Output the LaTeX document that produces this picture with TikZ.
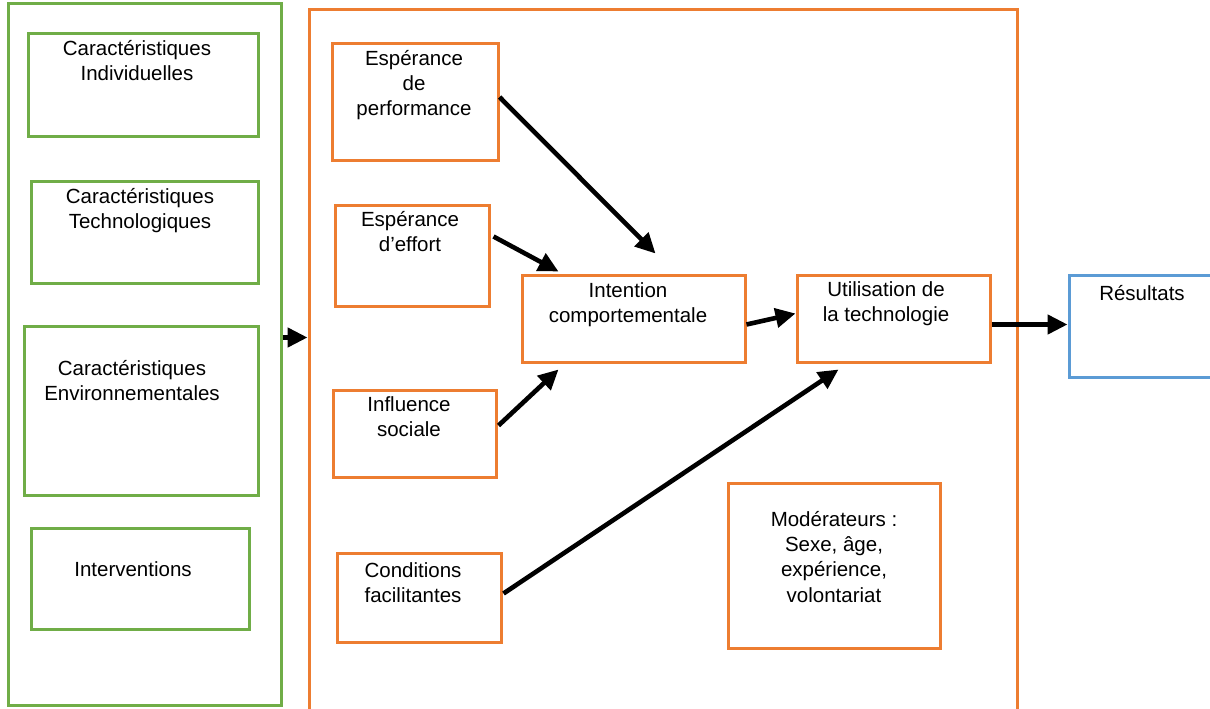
\documentclass[tikz,border=0pt]{standalone}
\usepackage{fontspec}
\setmainfont{Liberation Sans}
\usetikzlibrary{arrows.meta,positioning}
\definecolor{grn}{HTML}{70AD47}
\definecolor{org}{HTML}{ED7D31}
\definecolor{blu}{HTML}{5B9BD5}
\tikzset{
  gbox/.style={draw=grn,line width=3pt,inner sep=0pt},
  obox/.style={draw=org,line width=3pt,inner sep=0pt},
  bbox/.style={draw=blu,line width=3pt,inner sep=0pt},
  lbl/.style={font=\fontsize{20.5}{25.3}\selectfont,align=center,inner sep=0pt,anchor=north,execute at begin node=\strut},
  arr/.style={line width=4.6pt,-{Triangle[length=20pt,width=19pt]}}
}
\begin{document}
\begin{tikzpicture}[x=1pt,y=-1pt]
  \useasboundingbox (0,0) rectangle (1210,709);
  % facteurs externes
  \node[gbox,minimum width=273pt,minimum height=701pt] (gouter) at (144.5,354.5) {};
  \node[gbox,minimum width=230pt,minimum height=102pt] (gind) at (143,85) {};
  \node[gbox,minimum width=227pt,minimum height=102pt] (gtech) at (144.5,232) {};
  \node[gbox,minimum width=234pt,minimum height=169pt] (genv) at (141,410.5) {};
  \node[gbox,minimum width=218pt,minimum height=101pt] (gintv) at (140,578.5) {};
  \node[lbl] (gind-t) at (137,40) {Caractéristiques\\Individuelles};
  \node[lbl] (gtech-t) at (140,188) {Caractéristiques\\Technologiques};
  \node[lbl] (genv-t) at (132,360) {Caractéristiques\\Environnementales};
  \node[lbl] (gintv-t) at (133,559) {Interventions};
  % modele
  \node[obox,minimum width=708pt,minimum height=720pt] (oouter) at (663,370) {};
  \node[obox,minimum width=166pt,minimum height=116pt] (perf) at (415,102) {};
  \node[obox,minimum width=154pt,minimum height=101pt] (eff) at (412,255.5) {};
  \node[obox,minimum width=163pt,minimum height=87pt] (infl) at (414.5,433.5) {};
  \node[obox,minimum width=164pt,minimum height=89pt] (cond) at (419,597.5) {};
  \node[obox,minimum width=223pt,minimum height=87pt] (intent) at (633.5,318.5) {};
  \node[obox,minimum width=193pt,minimum height=87pt] (util) at (893.5,318.5) {};
  \node[obox,minimum width=212pt,minimum height=165pt] (mod) at (834,565.5) {};
  \node[bbox,minimum width=160pt,minimum height=102pt] (res) at (1149,326) {};
  \node[lbl] (perf-t) at (414,50) {Espérance\\de\\performance};
  \node[lbl] (eff-t) at (410,211) {Espérance\\d’effort};
  \node[lbl] (infl-t) at (409,396) {Influence\\sociale};
  \node[lbl] (cond-t) at (413,562) {Conditions\\facilitantes};
  \node[lbl] (intent-t) at (628,282) {Intention\\comportementale};
  \node[lbl] (util-t) at (886,281) {Utilisation de\\la technologie};
  \node[lbl] (mod-t) at (834,511) {Modérateurs :\\Sexe, âge,\\expérience,\\volontariat};
  \node[lbl] (res-t) at (1142,283) {Résultats};
  % liens
  \coordinate (link) at ([yshift=17pt]gouter.east);
  \draw[arr] (link) -- (link -| oouter.west);
  \draw[arr] ([yshift=5pt]perf.east) -- ([xshift=22pt,yshift=20pt]intent.north);
  \draw[arr] ([xshift=3pt,yshift=19pt]eff.east) -- ([xshift=-75pt,yshift=2pt]intent.north);
  \draw[arr] ([xshift=1pt,yshift=8pt]infl.east) -- ([xshift=-75pt,yshift=-6pt]intent.south);
  \draw[arr] ([yshift=-6pt]intent.east) -- ([yshift=5pt]util.west);
  \draw[arr] ([xshift=1pt,yshift=4pt]cond.east) -- ([xshift=-55pt,yshift=-6pt]util.south);
  \coordinate (out) at ([yshift=-6pt]util.east);
  \draw[arr] (out) -- (out -| res.west);
\end{tikzpicture}
\end{document}
